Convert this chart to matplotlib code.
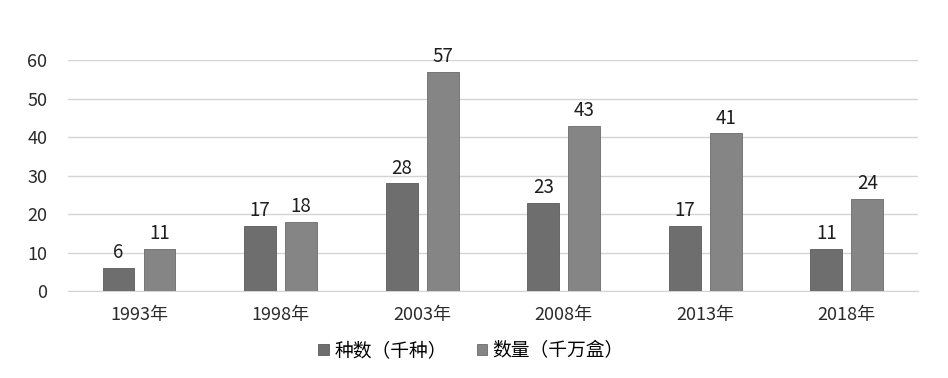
import numpy as np
import matplotlib
matplotlib.use('Agg')
import matplotlib.pyplot as plt

plt.rcParams['font.family'] = ['Noto Sans CJK SC', 'DejaVu Sans']

years = ['1993年', '1998年', '2003年', '2008年', '2013年', '2018年']
kinds = [6, 17, 28, 23, 17, 11]      # 种数（千种）
amount = [11, 18, 57, 43, 41, 24]    # 数量（千万盒）
labels = ['种数（千种）', '数量（千万盒）']
colors = ['#6e6e6e', '#858585']

fig = plt.figure(figsize=(9.48, 3.78), dpi=100)
ax = fig.add_axes([0.072, 0.23, 0.896, 0.611])

x = np.arange(len(years))
w = 0.225
off = 0.145
b1 = ax.bar(x - off, kinds, w, color=colors[0], edgecolor='#5a5a5a', linewidth=0.6, label=labels[0], zorder=3)
b2 = ax.bar(x + off, amount, w, color=colors[1], edgecolor='#6a6a6a', linewidth=0.6, label=labels[1], zorder=3)

for bars, vals in [(b1, kinds), (b2, amount)]:
    for r, v in zip(bars, vals):
        ax.text(r.get_x() + r.get_width() / 2, v + 1.2, str(v), ha='center', va='bottom',
                fontsize=13.5, fontweight='medium', color='#1e1e1e', clip_on=False)

ax.set_xlim(-0.5, len(years) - 0.5)
ax.set_ylim(0, 60)
ax.set_yticks(range(0, 61, 10))
ax.set_xticks(x)
ax.set_xticklabels(years)
ax.tick_params(axis='both', length=0, labelsize=13, colors='#2a2a2a')
ax.tick_params(axis='y', pad=15)
ax.tick_params(axis='x', pad=11)
ax.grid(axis='y', color='#d4d4d4', linewidth=1.0, zorder=0)
for s in ['top', 'right', 'left']:
    ax.spines[s].set_visible(False)
ax.spines['bottom'].set_color('#d4d4d4')

fig.legend(handles=[b1, b2], labels=labels, loc='center', bbox_to_anchor=(0.497, 0.072), ncol=2,
           frameon=False, fontsize=13.5, handlelength=0.55, handleheight=0.55, handletextpad=0.3,
           columnspacing=1.6)

fig.savefig('out.png', dpi=100)
